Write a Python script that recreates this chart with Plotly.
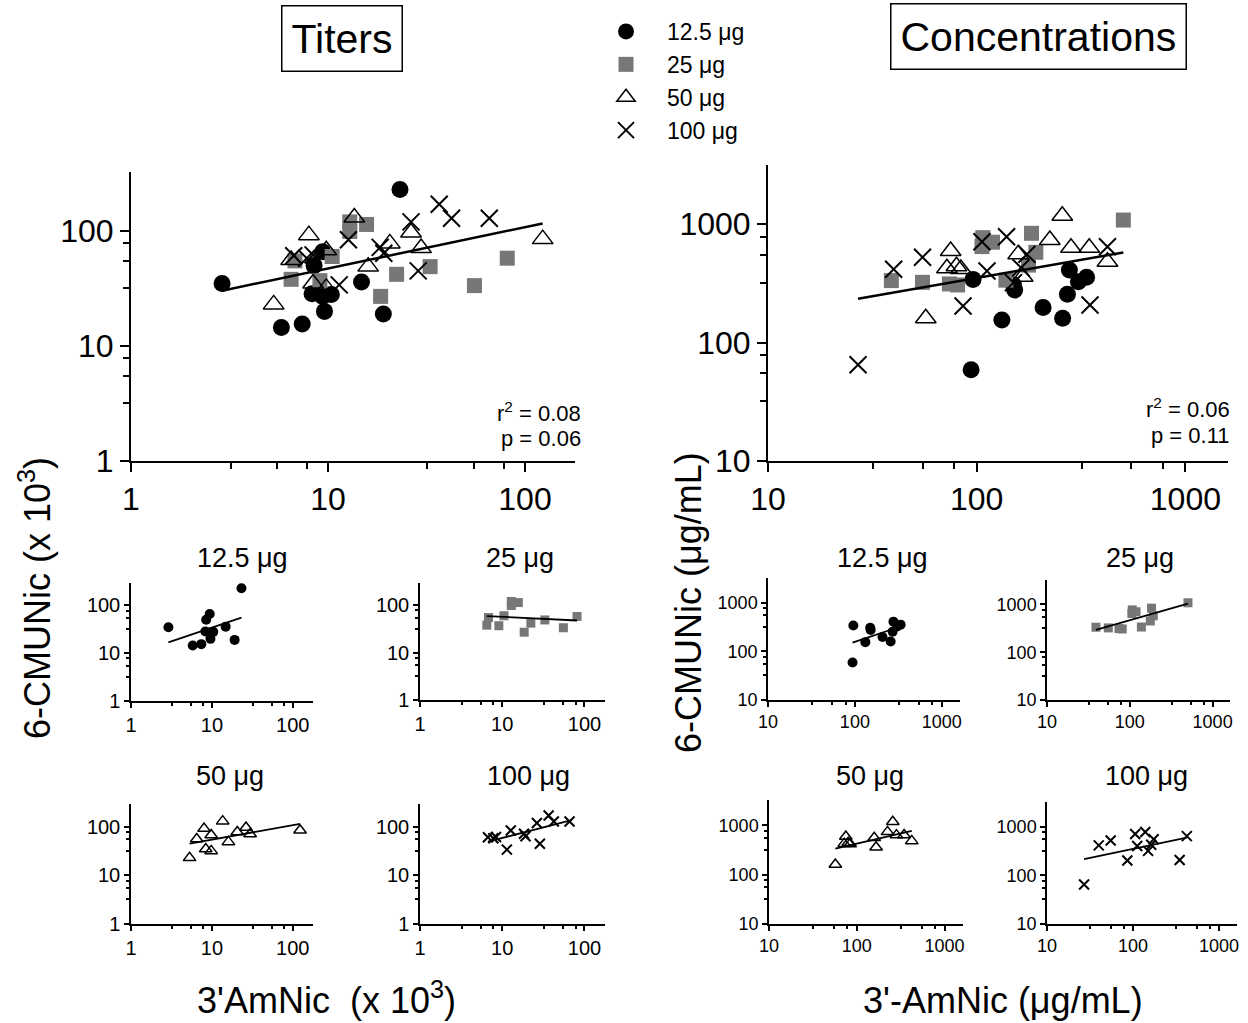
import numpy as np
import plotly.graph_objects as go

# ---- data (log-log scatter) ----
doses = ["12.5 μg", "25 μg", "50 μg", "100 μg"]

titers_x_125 = [2.9, 5.8, 7.4, 8.3, 8.5, 9.4, 9.6, 9.4, 10.4, 14.8, 19.1, 23.2]
titers_y_125 = [35, 14.5, 15.5, 28.5, 50, 66, 20, 27, 28, 36, 19, 230]
titers_x_25 = [6.5, 6.8, 9.1, 10.5, 12.9, 12.9, 15.7, 18.5, 22.3, 33, 55.4, 81.3]
titers_y_25 = [38, 55, 37, 60, 120, 99, 114, 27, 42, 49, 33.5, 58]
titers_x_50 = [5.3, 6.5, 8.0, 8.4, 9.8, 9.8, 13.6, 16.0, 20.6, 26.4, 29.7, 123]
titers_y_50 = [23, 56, 92, 35, 68, 32, 131, 49, 78, 97, 71, 85]
titers_x_100 = [6.7, 7.8, 8.4, 11.4, 12.7, 18.4, 19.2, 26.4, 28.7, 36.7, 42.4, 65.9]
titers_y_100 = [61, 58, 62, 34, 84, 72, 64, 120, 45, 171, 129, 129]

conc_x_125 = [96, 94, 132, 150, 152, 208, 258, 272, 278, 307, 336]
conc_y_125 = [341, 59, 155, 305, 277, 197, 160, 255, 409, 326, 355]
conc_x_25 = [39, 55, 74, 81, 107, 106, 119, 138, 177, 183, 192, 504]
conc_y_25 = [333, 322, 312, 306, 767, 645, 702, 336, 450, 835, 577, 1080]
conc_x_50 = [57, 72, 75, 80, 84, 158, 166, 224, 257, 283, 346, 423]
conc_y_50 = [160, 423, 591, 440, 417, 555, 359, 733, 1175, 630, 631, 481]
conc_x_100 = [27, 40, 55, 86, 106, 112, 139, 150, 163, 174, 349, 423]
conc_y_100 = [65, 415, 524, 203, 709, 401, 781, 320, 428, 555, 207, 643]

titers_stats = ["0.08", "0.06"]
conc_stats = ["0.06", "0.11"]

titers = [(titers_x_125, titers_y_125), (titers_x_25, titers_y_25),
          (titers_x_50, titers_y_50), (titers_x_100, titers_y_100)]
conc = [(conc_x_125, conc_y_125), (conc_x_25, conc_y_25),
        (conc_x_50, conc_y_50), (conc_x_100, conc_y_100)]

W, H = 1248, 1023
FONT = "Arial, Liberation Sans, sans-serif"

# marker styles per dose
styles = [
    dict(symbol="circle", color="black", line=dict(width=0)),
    dict(symbol="square", color="#777777", line=dict(width=0)),
    dict(symbol="triangle-up-open", color="black", line=dict(width=1.5, color="black")),
    dict(symbol="x-thin-open", color="black", line=dict(width=2, color="black")),
]
main_sizes = [17, 15, 18, 17]
small_sizes = [10, 9, 11, 10]


def fx(p):
    return p / W


def fy(p):
    return 1 - p / H


def fit_line(xs, ys):
    lx, ly = np.log10(xs), np.log10(ys)
    b, a = np.polyfit(lx, ly, 1)
    ends = np.array([lx.min(), lx.max()])
    return 10 ** ends, 10 ** (a + b * ends)


fig = go.Figure()
layout = {}


def add_axes(n, xdom, ydom, xr, yr, ticks, minors, tickfont, small):
    xa = "xaxis" if n == 1 else f"xaxis{n}"
    ya = "yaxis" if n == 1 else f"yaxis{n}"
    lw = 1.5 if small else 2
    common = dict(type="log", showgrid=False, zeroline=False, showline=True,
                  automargin=False,
                  linecolor="black", linewidth=lw, ticks="outside",
                  ticklen=5 if small else 9, tickwidth=lw, tickcolor="black",
                  tickvals=ticks, ticktext=[str(t) for t in ticks],
                  tickfont=dict(size=tickfont, color="black", family=FONT),
                  minor=dict(ticks="outside", ticklen=3 if small else 6,
                             tickwidth=lw, tickcolor="black", tickvals=minors),
                  fixedrange=True)
    layout[xa] = dict(common, domain=[fx(xdom[0]), fx(xdom[1])], range=xr,
                      anchor="y" if n == 1 else f"y{n}")
    layout[ya] = dict(common, domain=[fy(ydom[1]), fy(ydom[0])], range=yr,
                      anchor="x" if n == 1 else f"x{n}")


def add_panel(n, groups, which, size_list, legend=False):
    xr = "x" if n == 1 else f"x{n}"
    yr = "y" if n == 1 else f"y{n}"
    all_x, all_y = [], []
    for i in which:
        xs, ys = groups[i]
        all_x += xs
        all_y += ys
        st = styles[i]
        fig.add_trace(go.Scatter(
            x=xs, y=ys, mode="markers", name=doses[i], xaxis=xr, yaxis=yr,
            showlegend=legend,
            marker=dict(symbol=st["symbol"], color=st["color"],
                        size=size_list[i], line=st["line"])))
    lx, ly = fit_line(all_x, all_y)
    fig.add_trace(go.Scatter(x=lx, y=ly, mode="lines", xaxis=xr, yaxis=yr,
                             showlegend=False, hoverinfo="skip",
                             line=dict(color="black", width=2.5 if n <= 2 else 1.8)))


t_ticks = [1, 10, 100]
c_ticks = [10, 100, 1000]
t_minor = [3.2, 5.5, 7.8, 32, 55, 78]
c_minor = [32, 55, 78, 320, 550, 780]

# main panels
add_axes(1, (131, 575), (172, 461), [0, 2.254], [0, 2.513], t_ticks, t_minor, 32, False)
add_panel(1, titers, [0, 1, 2, 3], main_sizes, legend=True)
add_axes(2, (768, 1228), (165, 461), [1, 3.204], [1, 3.498], c_ticks, c_minor, 32, False)
add_panel(2, conc, [0, 1, 2, 3], main_sizes)

# small panels: (axis n, x domain, y domain, titers/conc, dose index)
small = [
    (3, (131, 313), (583, 701), "t", 0),
    (4, (420, 605), (583, 700), "t", 1),
    (5, (768, 960), (578, 700), "c", 0),
    (6, (1047, 1230), (580, 700), "c", 1),
    (7, (131, 313), (804, 924), "t", 2),
    (8, (420, 605), (804, 924), "t", 3),
    (9, (769, 963), (800, 924), "c", 2),
    (10, (1047, 1237), (802, 924), "c", 3),
]
for n, xd, yd, kind, i in small:
    if kind == "t":
        add_axes(n, xd, yd, [0, 2.25], [0, 2.47], t_ticks, t_minor, 20, True)
        add_panel(n, titers, [i], small_sizes)
    else:
        add_axes(n, xd, yd, [1, 3.21], [1, 3.51], c_ticks, c_minor, 18, True)
        add_panel(n, conc, [i], small_sizes)

ann = []


def text(x, y, s, size, **kw):
    d = dict(x=fx(x), y=fy(y), xref="paper", yref="paper", text=s, showarrow=False,
             font=dict(size=size, color="black", family=FONT),
             xanchor="center", yanchor="middle")
    d.update(kw)
    ann.append(d)


text(342, 39, "Titers", 41, bordercolor="black", borderwidth=1.5, borderpad=9)
text(1038, 37, "Concentrations", 41, bordercolor="black", borderwidth=1.5, borderpad=9)

text(583, 412, f"r<sup>2</sup> = {titers_stats[0]}", 22, xanchor="right")
text(583, 438, f"p = {titers_stats[1]}", 22, xanchor="right")
text(1232, 408, f"r<sup>2</sup> = {conc_stats[0]}", 22, xanchor="right")
text(1232, 435, f"p = {conc_stats[1]}", 22, xanchor="right")

for (cx, cy, label) in [(242, 558, doses[0]), (520, 558, doses[1]),
                        (882, 558, doses[0]), (1140, 558, doses[1]),
                        (230, 776, doses[2]), (528, 776, doses[3]),
                        (870, 776, doses[2]), (1146, 776, doses[3])]:
    text(cx, cy, label, 27)

text(35, 598, "6-CMUNic (x 10<sup>3</sup>)", 36, textangle=-90)
text(688, 603, "6-CMUNic (μg/mL)", 36, textangle=-90)
text(326, 998, "3'AmNic\u00a0\u00a0(x 10<sup>3</sup>)", 36)
text(1003, 1000, "3'-AmNic (μg/mL)", 36)

fig.update_layout(
    template="none",
    width=W, height=H, margin=dict(l=0, r=0, t=0, b=0, pad=0),
    paper_bgcolor="white", plot_bgcolor="white",
    font=dict(family=FONT, color="black"),
    annotations=ann,
    showlegend=True,
    legend=dict(x=fx(585), y=fy(10), xanchor="left", yanchor="top",
                font=dict(size=23, color="black", family=FONT),
                bgcolor="rgba(0,0,0,0)", borderwidth=0,
                itemsizing="trace", itemwidth=72, tracegroupgap=0),
    **layout,
)

fig.write_html("out.html", config={"displayModeBar": False},
               post_script="document.body.style.margin='0';")
